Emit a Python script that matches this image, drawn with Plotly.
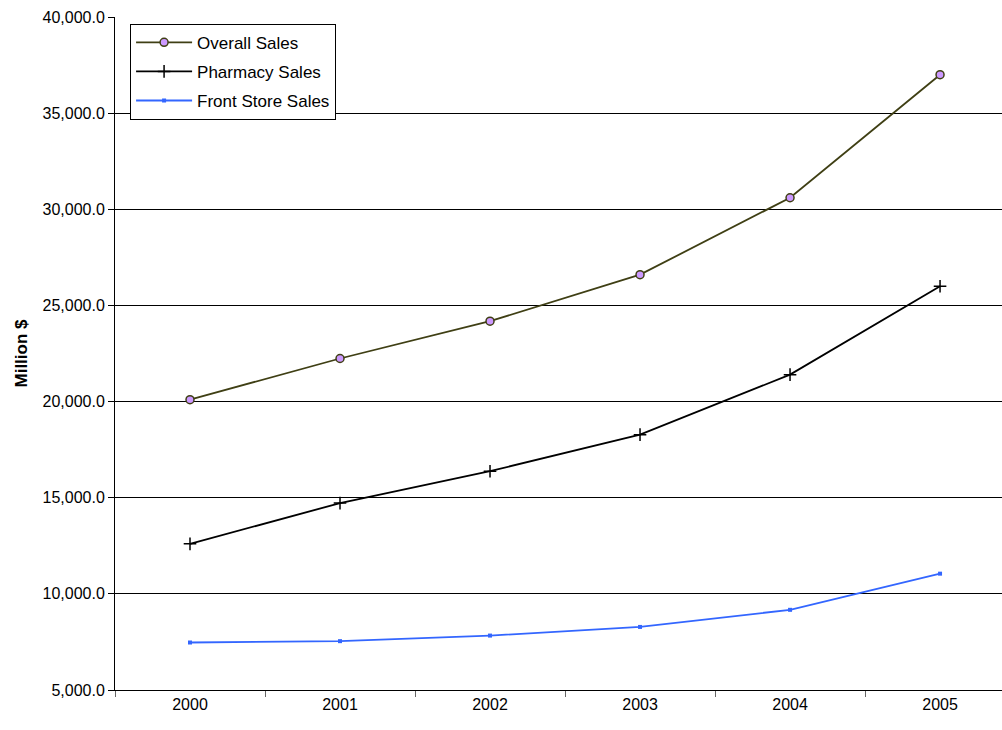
import plotly.graph_objects as go

years = ["2000", "2001", "2002", "2003", "2004", "2005"]
overall_sales = [20100, 22240, 24180, 26600, 30600, 37000]
pharmacy_sales = [12600, 14720, 16380, 18280, 21400, 26000]
front_store_sales = [7470, 7540, 7830, 8280, 9170, 11050]

fig = go.Figure()

fig.add_trace(go.Scatter(
    x=years, y=overall_sales, name="Overall Sales", mode="lines+markers",
    legendgroup="a",
    line=dict(color="#3f3f14", width=1.8),
    marker=dict(symbol="circle", size=8, color="#cc99ff",
                line=dict(color="#3f3f14", width=1.5)),
))
fig.add_trace(go.Scatter(
    x=years, y=pharmacy_sales, name="Pharmacy Sales", mode="lines+markers",
    legendgroup="b",
    line=dict(color="#000000", width=1.8),
    marker=dict(symbol="cross-thin", size=9, color="#000000",
                line=dict(color="#000000", width=1.5)),
))
fig.add_trace(go.Scatter(
    x=years, y=front_store_sales, name="Front Store Sales", mode="lines+markers",
    legendgroup="c",
    line=dict(color="#3366ff", width=1.8),
    marker=dict(symbol="square", size=4, color="#3366ff"),
))

fig.update_layout(
    width=1002, height=730,
    margin=dict(l=115, r=0, t=17, b=40),
    paper_bgcolor="white", plot_bgcolor="white",
    font=dict(family="Liberation Sans, Arial, sans-serif", size=16, color="#000000"),
    showlegend=True,
    legend=dict(
        x=0.017, y=0.99, xanchor="left", yanchor="top",
        bgcolor="white", bordercolor="#000000", borderwidth=1,
        font=dict(size=17), tracegroupgap=4, itemwidth=56,
    ),
    xaxis=dict(
        type="category", range=[-0.5, 5.413],
        tickson="boundaries", ticks="outside", ticklen=6, tickcolor="#666666",
        showline=True, linecolor="#000000", linewidth=1,
        showgrid=False, tickfont=dict(size=16),
    ),
    yaxis=dict(
        range=[5000, 40000], dtick=5000, tickformat=",.1f",
        ticks="outside", ticklen=6, tickcolor="#000000",
        showline=True, linecolor="#000000", linewidth=1,
        showgrid=True, gridcolor="#000000", gridwidth=1,
        zeroline=False, tickfont=dict(size=16),
        title=dict(text="<b>Million $</b>", font=dict(size=17), standoff=10),
    ),
)

fig.write_html("out.html")
